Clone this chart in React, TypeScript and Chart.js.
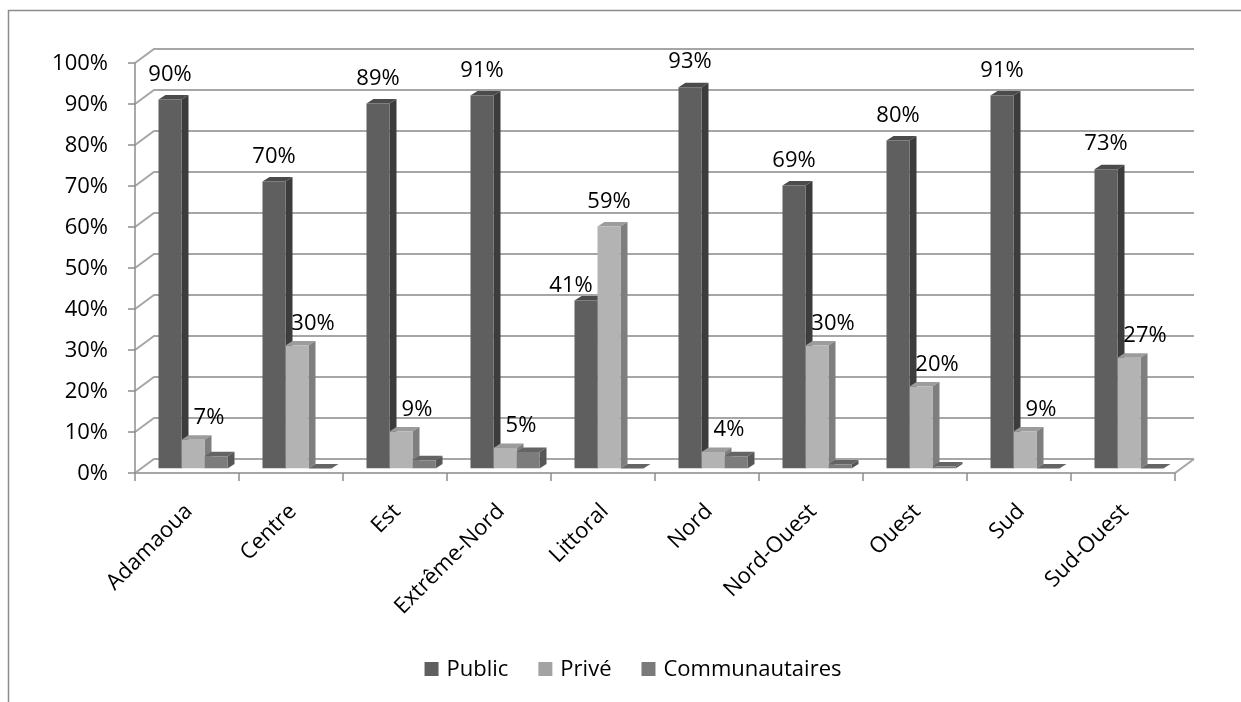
import React, { useEffect, useRef } from "react";
import { Chart, registerables } from "chart.js";

Chart.register(...registerables);

const categories = [
  "Adamaoua",
  "Centre",
  "Est",
  "Extrême-Nord",
  "Littoral",
  "Nord",
  "Nord-Ouest",
  "Ouest",
  "Sud",
  "Sud-Ouest",
];
const publicValues = [90, 70, 89, 91, 41, 93, 69, 80, 91, 73];
const priveValues = [7, 30, 9, 5, 59, 4, 30, 20, 9, 27];
const communautairesValues = [3, 0, 2, 4, 0, 3, 1, 0.5, 0, 0];
const seriesNames = ["Public", "Privé", "Communautaires"];
const yTickValues = [0, 10, 20, 30, 40, 50, 60, 70, 80, 90, 100];

// styling
const FONT = '22px "Open Sans"';
const FRONT = ["#5f5f5f", "#b3b3b3", "#7c7c7c"];
const TOP = ["#4b4b4b", "#9c9c9c", "#646464"];
const SIDE = ["#3c3c3c", "#7e7e7e", "#565656"];
const LEGEND = ["#5f5f5f", "#a3a3a3", "#7a7a7a"];
const GRID = "#a6a6a6";
const AXIS = "#8c8c8c";
// 3D geometry
const DX = 19; // wall depth x
const DY = -14; // wall depth y
const BSX = 6; // bar front plane shift from frame front
const BSY = -4.5;
const BDX = 7; // bar depth
const BDY = -4.5;

const pct = (v: number) => `${Math.round(v)}%`;

const frame3d = {
  id: "frame3d",
  beforeDatasetsDraw(chart: any) {
    const ctx: CanvasRenderingContext2D = chart.ctx;
    const xs = chart.scales.x;
    const ys = chart.scales.y;
    const n = categories.length;
    const step = (xs.right - xs.left) / n;
    const L = xs.left - BSX;
    const R = xs.right - BSX;
    const yp = (v: number) => ys.getPixelForValue(v) - BSY;

    ctx.save();
    // outer border
    ctx.strokeStyle = AXIS;
    ctx.lineWidth = 1.5;
    ctx.beginPath();
    ctx.moveTo(8.5, 702);
    ctx.lineTo(8.5, 10.5);
    ctx.lineTo(1241, 10.5);
    ctx.stroke();

    // back wall + side wall gridlines
    ctx.strokeStyle = GRID;
    ctx.lineWidth = 2;
    yTickValues.forEach((v) => {
      const py = yp(v);
      ctx.beginPath();
      ctx.moveTo(L, py);
      ctx.lineTo(L + DX, py + DY);
      ctx.lineTo(R + DX, py + DY);
      ctx.stroke();
    });
    // floor front and right edge
    const y0 = yp(0);
    ctx.beginPath();
    ctx.moveTo(L, y0);
    ctx.lineTo(R, y0);
    ctx.lineTo(R + DX, y0 + DY);
    ctx.stroke();

    // vertical axis
    ctx.strokeStyle = AXIS;
    ctx.lineWidth = 1.5;
    ctx.beginPath();
    ctx.moveTo(L, yp(100));
    ctx.lineTo(L, y0);
    ctx.stroke();
    yTickValues.forEach((v) => {
      const py = yp(v);
      ctx.beginPath();
      ctx.moveTo(L - 7, py);
      ctx.lineTo(L, py);
      ctx.stroke();
    });
    // category ticks
    for (let i = 0; i <= n; i++) {
      const bx = xs.getPixelForValue(0) - step / 2 + i * step - BSX;
      ctx.beginPath();
      ctx.moveTo(bx, y0);
      ctx.lineTo(bx, y0 + 8);
      ctx.stroke();
    }

    // 3D top and side faces of bars (front faces drawn by Chart.js)
    for (let i = 0; i < n; i++) {
      for (let d = 0; d < seriesNames.length; d++) {
        const el: any = chart.getDatasetMeta(d).data[i];
        if (!el) continue;
        const x0 = el.x - el.width / 2;
        const x1 = el.x + el.width / 2;
        const yt = el.y;
        const yb = el.base;
        ctx.fillStyle = TOP[d];
        ctx.beginPath();
        ctx.moveTo(x0, yt);
        ctx.lineTo(x1, yt);
        ctx.lineTo(x1 + BDX, yt + BDY);
        ctx.lineTo(x0 + BDX, yt + BDY);
        ctx.closePath();
        ctx.fill();
        ctx.fillStyle = SIDE[d];
        ctx.beginPath();
        ctx.moveTo(x1, yt);
        ctx.lineTo(x1 + BDX, yt + BDY);
        ctx.lineTo(x1 + BDX, yb + BDY);
        ctx.lineTo(x1, yb);
        ctx.closePath();
        ctx.fill();
      }
    }
    ctx.restore();
  },
  afterDatasetsDraw(chart: any) {
    const ctx: CanvasRenderingContext2D = chart.ctx;
    const xs = chart.scales.x;
    const ys = chart.scales.y;
    const L = xs.left - BSX;
    const yp = (v: number) => ys.getPixelForValue(v) - BSY;
    ctx.save();
    ctx.font = FONT;
    ctx.fillStyle = "#000";

    // y tick labels
    ctx.textAlign = "right";
    ctx.textBaseline = "middle";
    yTickValues.forEach((v) => {
      ctx.fillText(pct(v), L - 27, yp(v) + 1);
    });

    // category labels
    categories.forEach((c, i) => {
      const cx = xs.getPixelForValue(i) - BSX;
      ctx.save();
      ctx.translate(cx + 2, yp(0) + 35);
      ctx.rotate(-Math.PI / 4);
      ctx.textAlign = "right";
      ctx.textBaseline = "middle";
      ctx.fillText(c, 0, 0);
      ctx.restore();
    });

    // data labels (Public and Privé)
    ctx.textAlign = "center";
    ctx.textBaseline = "middle";
    for (let i = 0; i < categories.length; i++) {
      const pub = publicValues[i];
      const pri = priveValues[i];
      const elP: any = chart.getDatasetMeta(0).data[i];
      const elV: any = chart.getDatasetMeta(1).data[i];
      if (pri > pub) {
        ctx.fillText(pct(pub), elP.x - 15, elP.y - 15);
        ctx.fillText(pct(pri), elV.x, elV.y - 25);
      } else {
        ctx.fillText(pct(pub), elP.x, elP.y - 25);
        ctx.fillText(pct(pri), elV.x + 16, elV.y - 22);
      }
    }

    // legend
    const items = seriesNames.map((s) => ({ s, w: ctx.measureText(s).width }));
    const box = 14;
    const gapBox = 8;
    const gapItem = 30;
    const total =
      items.reduce((a, it) => a + box + gapBox + it.w, 0) + gapItem * (items.length - 1);
    let lx = 633 - total / 2;
    const ly = 669;
    ctx.textAlign = "left";
    items.forEach((it, d) => {
      ctx.fillStyle = LEGEND[d];
      ctx.fillRect(lx, ly - box / 2, box, box);
      ctx.fillStyle = "#000";
      ctx.fillText(it.s, lx + box + gapBox, ly + 1);
      lx += box + gapBox + it.w + gapItem;
    });
    ctx.restore();
  },
};

export default function App() {
  const ref = useRef<HTMLCanvasElement>(null);
  useEffect(() => {
    if (!ref.current) return;
    const chart = new Chart(ref.current, {
      type: "bar",
      data: {
        labels: categories,
        datasets: [
          { label: seriesNames[0], data: publicValues, backgroundColor: FRONT[0] },
          { label: seriesNames[1], data: priveValues, backgroundColor: FRONT[1] },
          { label: seriesNames[2], data: communautairesValues, backgroundColor: FRONT[2] },
        ],
      },
      options: {
        responsive: false,
        animation: false,
        devicePixelRatio: 1,
        layout: { padding: { left: 141, right: 60, top: 58.5, bottom: 233.5 } },
        datasets: {
          bar: { categoryPercentage: 69 / 104, barPercentage: 1, borderWidth: 0 },
        },
        scales: {
          x: { display: false },
          y: { display: false, min: 0, max: 100 },
        },
        plugins: {
          legend: { display: false },
          tooltip: { enabled: false },
        },
      },
      plugins: [frame3d],
    });
    return () => chart.destroy();
  }, []);
  return (
    <div style={{ position: "fixed", left: 0, top: 0, width: 1241, height: 702, background: "#fff" }}>
      <canvas ref={ref} width={1241} height={702} style={{ display: "block" }} />
    </div>
  );
}
